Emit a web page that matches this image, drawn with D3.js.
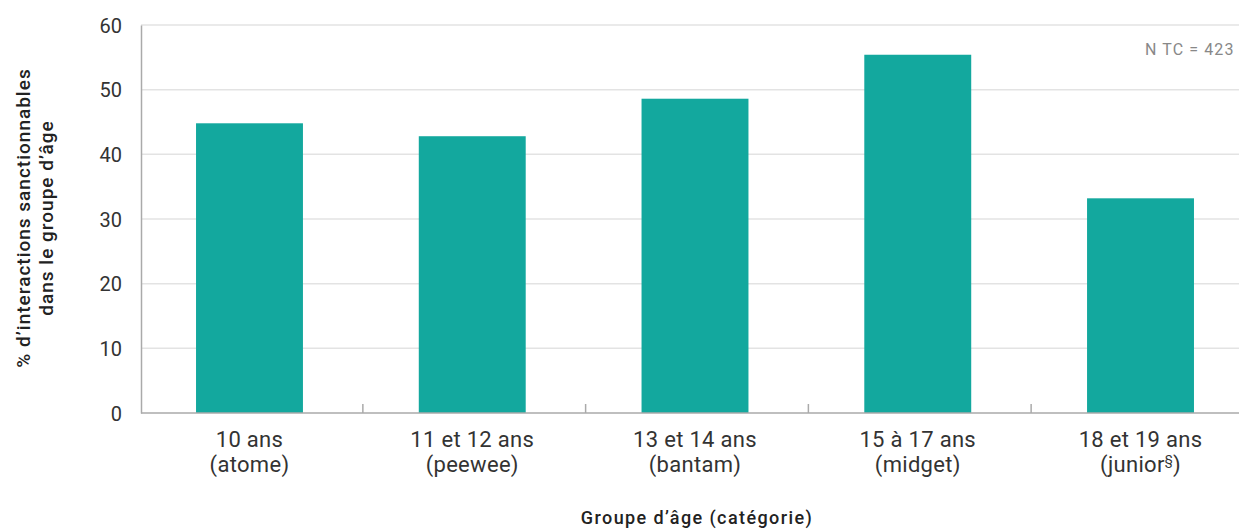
<!DOCTYPE html>
<html>
<head>
<meta charset="utf-8">
<script src="https://cdn.jsdelivr.net/npm/d3@7"></script>
<style>
  body { margin: 0; background: #fff; }
  svg { display: block; font-family: Roboto, "Liberation Sans", sans-serif; }
</style>
</head>
<body>
<svg id="chart" width="1239" height="529"></svg>
<script>
// Age groups (two-line labels) and share of sanctionable interactions (%)
const groups = ["10 ans", "11 et 12 ans", "13 et 14 ans", "15 à 17 ans", "18 et 19 ans"];
const categories = ["(atome)", "(peewee)", "(bantam)", "(midget)", "(junior§)"];
const values = [44.8, 42.8, 48.6, 55.4, 33.2];
const yTicks = [0, 10, 20, 30, 40, 50, 60];

const svg = d3.select("#chart");
const plotLeft = 141, plotTop = 25, plotBottom = 413;

const x = d3.scaleBand().domain(groups).range([139, 1251]).paddingInner(0.52).paddingOuter(0.256);
const y = d3.scaleLinear().domain([0, 60]).range([plotBottom, plotTop]);

// horizontal gridlines
svg.append("g").selectAll("line").data(yTicks.filter(d => d > 0)).join("line")
  .attr("x1", plotLeft).attr("x2", 1239)
  .attr("y1", d => y(d)).attr("y2", d => y(d))
  .attr("stroke", "#e3e3e3").attr("stroke-width", 1.5);

// bars
svg.append("g").selectAll("rect").data(values).join("rect")
  .attr("x", (d, i) => x(groups[i]))
  .attr("width", x.bandwidth())
  .attr("y", d => y(d))
  .attr("height", d => y(0) - y(d))
  .attr("fill", "#13a89e");

// y axis
const yAxis = svg.append("g").attr("transform", `translate(${plotLeft},0)`)
  .call(d3.axisLeft(y).tickValues(yTicks).tickSize(0).tickPadding(10));
yAxis.select(".domain").attr("stroke", "#aaa").attr("stroke-width", 1.5);
yAxis.selectAll("text").attr("font-size", 20).attr("fill", "#333")
  .attr("font-family", "Roboto, sans-serif").attr("dx", -9).attr("dy", "0.36em");

// x axis line and separator ticks between groups
const gap = (x.step() - x.bandwidth()) / 2;
svg.append("line").attr("x1", plotLeft).attr("x2", 1239).attr("y1", plotBottom).attr("y2", plotBottom)
  .attr("stroke", "#aaa").attr("stroke-width", 1.5);
svg.append("g").selectAll("line").data(groups.slice(1)).join("line")
  .attr("x1", d => x(d) - gap + 2)
  .attr("x2", d => x(d) - gap + 2)
  .attr("y1", plotBottom).attr("y2", plotBottom - 9)
  .attr("stroke", "#aaa").attr("stroke-width", 1.5);

// category labels
const lab = svg.append("g").selectAll("text").data(groups).join("text")
  .attr("text-anchor", "middle").attr("font-size", 22).attr("letter-spacing", 0.3)
  .attr("fill", "#333");
lab.append("tspan").attr("x", d => x(d) + x.bandwidth() / 2).attr("y", 447).text(d => d);
lab.each(function (d, i) {
  const t = d3.select(this);
  const cat = categories[i];
  const second = t.append("tspan").attr("x", x(d) + x.bandwidth() / 2).attr("y", 472);
  if (cat.includes("§")) {
    second.text(cat.replace("§)", ""));
    t.append("tspan").attr("font-size", 13).attr("dy", -8).text("§");
    t.append("tspan").attr("dy", 8).text(")");
  } else {
    second.text(cat);
  }
});

// x axis title
svg.append("text").attr("x", 697).attr("y", 524).attr("text-anchor", "middle")
  .attr("font-size", 18).attr("font-weight", 500).attr("letter-spacing", 1.4).attr("fill", "#222")
  .text("Groupe d’âge (catégorie)");

// y axis title (two lines, rotated)
const yt = svg.append("text").attr("transform", "translate(0,218) rotate(-90)")
  .attr("text-anchor", "middle").attr("font-size", 19).attr("font-weight", 500)
  .attr("letter-spacing", 1).attr("fill", "#222");
yt.append("tspan").attr("x", 0).attr("y", 30).text("% d’interactions sanctionnables");
yt.append("tspan").attr("x", 0).attr("y", 53).text("dans le groupe d’âge");

// sample size note
svg.append("text").attr("x", 1145).attr("y", 55).attr("font-size", 16).attr("letter-spacing", 1.1)
  .attr("fill", "#888").text("N TC = 423");
</script>
</body>
</html>
